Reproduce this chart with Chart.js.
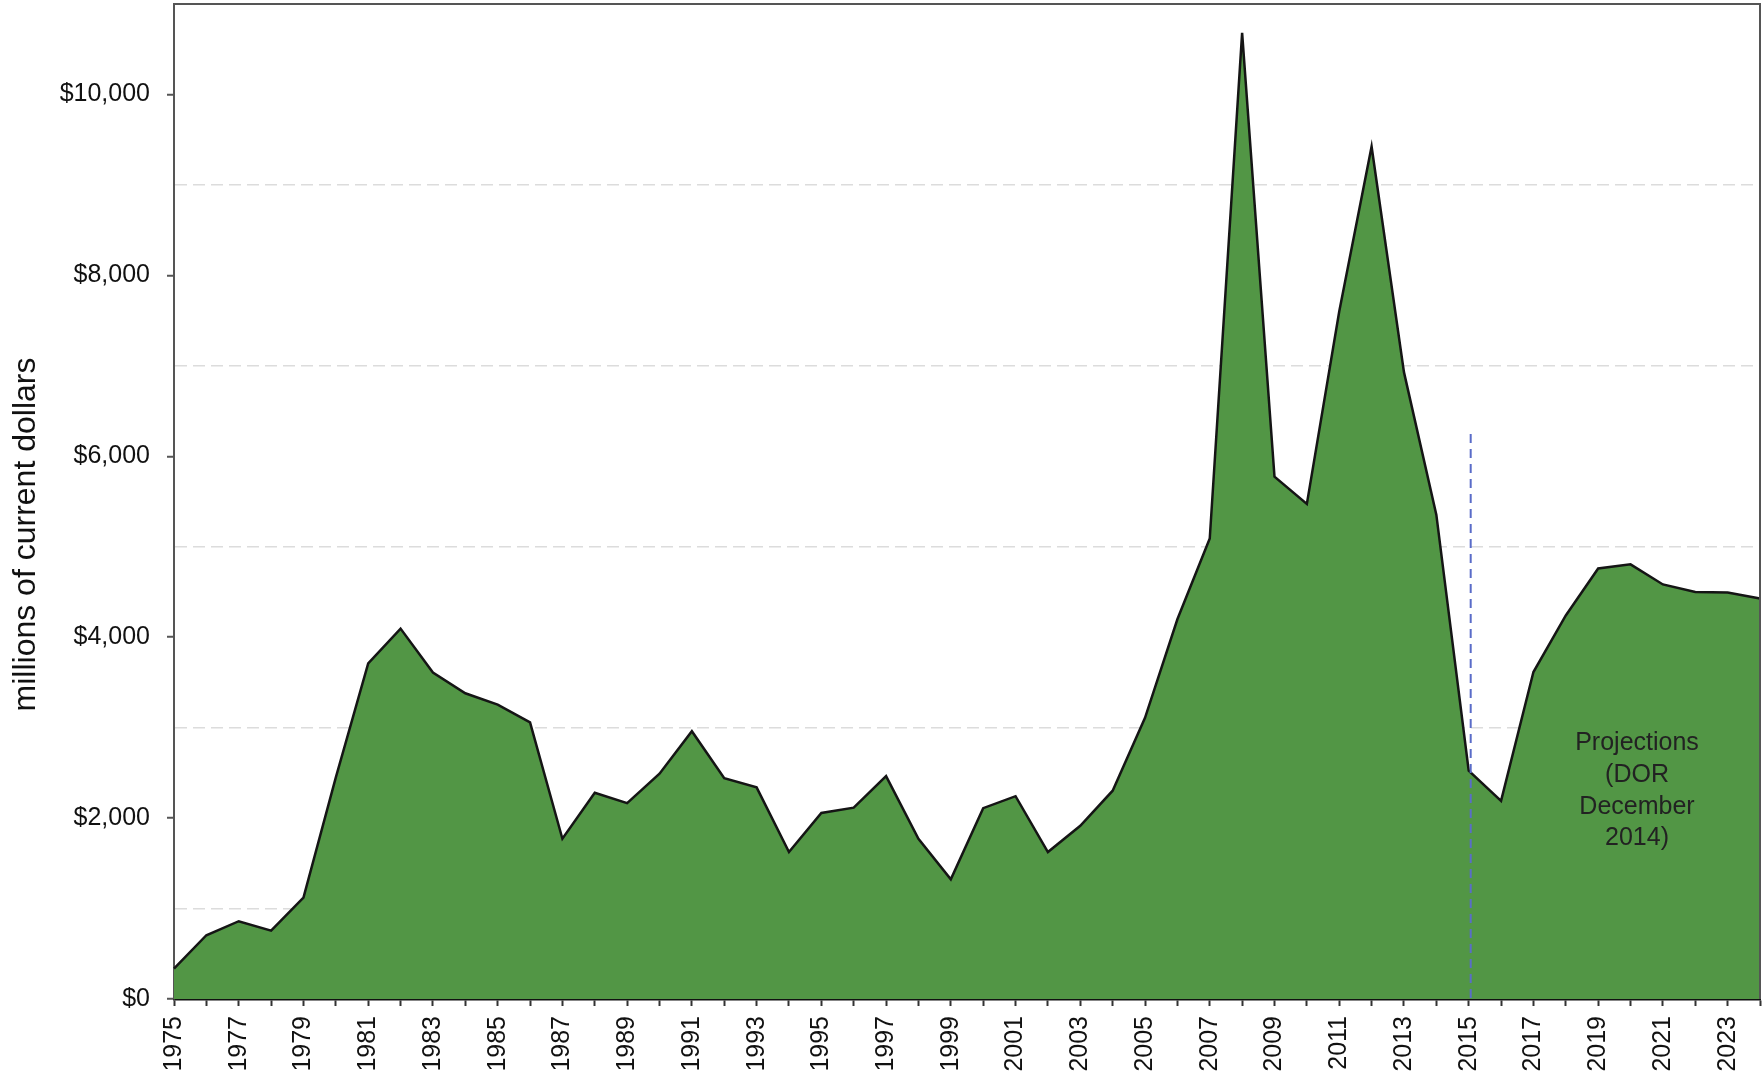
<!DOCTYPE html>
<html>
<head>
<meta charset="utf-8">
<script src="https://cdn.jsdelivr.net/npm/chart.js@4"></script>
<style>
  html, body { margin: 0; padding: 0; background: #ffffff; overflow: hidden; }
  #wrap { position: relative; width: 1762px; height: 1091px; }
</style>
</head>
<body>
<div id="wrap"><canvas id="c"></canvas></div>
<script>
// ---- data ----
const years = [1975,1976,1977,1978,1979,1980,1981,1982,1983,1984,1985,1986,1987,1988,1989,1990,1991,1992,1993,1994,1995,1996,1997,1998,1999,2000,2001,2002,2003,2004,2005,2006,2007,2008,2009,2010,2011,2012,2013,2014,2015,2016,2017,2018,2019,2020,2021,2022,2023,2024];
const values = [335,705,860,755,1120,2450,3710,4095,3610,3380,3255,3059,1772,2280,2165,2490,2960,2440,2340,1625,2056,2115,2464,1771,1323,2110,2242,1625,1915,2303,3108,4198,5090,10680,5775,5474,7600,9425,6930,5355,2525,2190,3615,4240,4760,4805,4583,4500,4495,4428];
const yAxisTitle = 'millions of current dollars';
const yMin = 0, yMax = 11000, yStep = 1000;
const dividerYear = 2015;
const dividerTopValue = 6245;
const noteLines = ['Projections', '(DOR', 'December', '2014)'];
const noteYear = 2020.2;
const noteTopValue = 2830;

const fontFamily = '"Liberation Sans", Arial, sans-serif';

function zeroPadding(s) {
  s.paddingTop = 0; s.paddingBottom = 0; s.paddingLeft = 0; s.paddingRight = 0;
}

const frameAndNotes = {
  id: 'frameAndNotes',
  afterDatasetsDraw(chart) {
    const {ctx, chartArea: a, scales: {x, y}} = chart;
    ctx.save();
    // top and right frame lines
    ctx.strokeStyle = '#555555';
    ctx.lineWidth = 2;
    ctx.beginPath();
    ctx.moveTo(a.left, a.top);
    ctx.lineTo(a.right, a.top);
    ctx.lineTo(a.right, a.bottom);
    ctx.stroke();
    // projection divider
    const dx = x.getPixelForValue(years.indexOf(dividerYear)) + 2;
    ctx.strokeStyle = '#5a6cc8';
    ctx.lineWidth = 2;
    ctx.setLineDash([9, 6]);
    ctx.beginPath();
    ctx.moveTo(dx, y.getPixelForValue(dividerTopValue));
    ctx.lineTo(dx, y.getPixelForValue(0));
    ctx.stroke();
    ctx.setLineDash([]);
    // note text
    const nx = x.getPixelForValue(noteYear - years[0]);
    const ny = y.getPixelForValue(noteTopValue);
    ctx.fillStyle = '#222222';
    ctx.font = '25px ' + fontFamily;
    ctx.textAlign = 'center';
    ctx.textBaseline = 'middle';
    noteLines.forEach((t, i) => ctx.fillText(t, nx, ny + i * 31.8));
    // y-axis title (slightly below the axis centre, as in the original)
    ctx.save();
    ctx.translate(26, (a.top + a.bottom) / 2 + 33);
    ctx.rotate(-Math.PI / 2);
    ctx.fillStyle = '#111111';
    ctx.font = '32px ' + fontFamily;
    ctx.textAlign = 'center';
    ctx.textBaseline = 'middle';
    ctx.fillText(yAxisTitle, 0, 0);
    ctx.restore();
    ctx.restore();
  }
};

new Chart(document.getElementById('c'), {
  type: 'line',
  data: {
    labels: years,
    datasets: [{
      data: values,
      fill: 'origin',
      backgroundColor: '#529645',
      borderColor: '#151515',
      borderWidth: 2.5,
      pointRadius: 0,
      tension: 0
    }]
  },
  options: {
    responsive: true,
    maintainAspectRatio: false,
    devicePixelRatio: 1,
    animation: false,
    layout: { padding: { top: 4, right: 2, left: 0, bottom: 0 } },
    plugins: { legend: { display: false }, tooltip: { enabled: false } },
    scales: {
      x: {
        type: 'category',
        offset: false,
        afterFit(s) { s.height = 92; zeroPadding(s); },
        grid: { display: true, drawOnChartArea: false, drawTicks: true, tickLength: 7, tickColor: '#333333', tickWidth: 2 },
        border: { display: true, color: '#111111', width: 2.5 },
        ticks: {
          autoSkip: false,
          minRotation: 90,
          maxRotation: 90,
          padding: 10,
          color: '#111111',
          font: { family: fontFamily, size: 25 },
          callback(v, i) { return i % 2 === 0 ? String(years[i]) : ''; }
        }
      },
      y: {
        min: yMin,
        max: yMax,
        afterFit(s) { s.width = 174; zeroPadding(s); },
        grid: {
          drawTicks: true,
          tickLength: 7,
          tickWidth: 2,
          lineWidth: 1.5,
          color(ctx) { const v = ctx.tick ? ctx.tick.value : 0; return (v % 2000 !== 0) ? '#dcdcdc' : 'rgba(0,0,0,0)'; },
          tickColor(ctx) { const v = ctx.tick ? ctx.tick.value : 0; return (v % 2000 === 0 && v !== yMax) ? '#555555' : 'rgba(0,0,0,0)'; }
        },
        border: { display: true, color: '#555555', width: 2, dash: [12, 6] },
        ticks: {
          stepSize: yStep,
          padding: 17,
          color: '#111111',
          font: { family: fontFamily, size: 25 },
          callback(v) { return (v % 2000 === 0 && v !== yMax) ? '$' + v.toLocaleString('en-US') : ''; }
        },
        title: { display: false }
      }
    }
  },
  plugins: [frameAndNotes]
});
</script>
</body>
</html>
